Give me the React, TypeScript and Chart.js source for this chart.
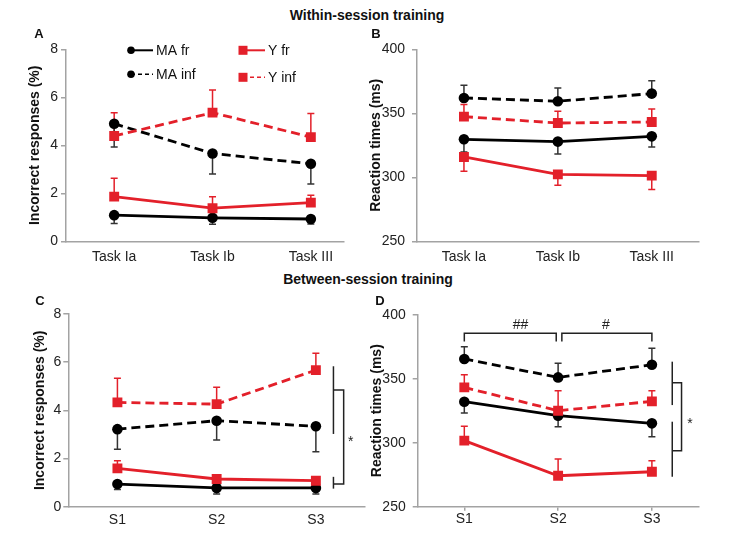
import React, { useEffect, useRef } from 'react';
import { Chart, registerables } from 'chart.js';

Chart.register(...registerables);

const FONT = 'Arial, "Liberation Sans", Helvetica, sans-serif';
Chart.defaults.font.family = FONT;

const RED = '#e3202a';
const BLACK = '#000000';
const BLACK_ERR = '#333333';
const AXIS = '#a3a3a3';
const TEXT = '#222222';

// ---------- categories ----------
const taskLabels = ['Task Ia', 'Task Ib', 'Task III'];
const sessionLabels = ['S1', 'S2', 'S3'];
const seriesNames = ['MA fr', 'Y fr', 'MA inf', 'Y inf'];

// ---------- A: within-session, incorrect responses (%) ----------
const withinErrMAfr = [1.09, 0.98, 0.93];
const withinErrMAfrSE = [-0.35, -0.27, -0.21];
const withinErrYfr = [1.86, 1.38, 1.61];
const withinErrYfrSE = [0.77, 0.48, 0.31];
const withinErrMAinf = [4.9, 3.66, 3.23];
const withinErrMAinfSE = [-0.97, -0.86, -0.84];
const withinErrYinf = [4.39, 5.36, 4.34];
const withinErrYinfSE = [0.97, 0.94, 0.99];

// ---------- B: within-session, reaction times (ms) ----------
const withinRtMAfr = [329.7, 327.9, 332.0];
const withinRtMAfrSE = [-10.0, -9.7, -8.3];
const withinRtYfr = [315.9, 302.3, 301.3];
const withinRtYfrSE = [-11.2, -8.5, -10.9];
const withinRtMAinf = [362.0, 359.4, 365.4];
const withinRtMAinfSE = [9.9, 10.4, 10.1];
const withinRtYinf = [347.4, 342.4, 343.2];
const withinRtYinfSE = [9.4, 9.2, 10.2];

// ---------- C: between-session, incorrect responses (%) ----------
const betweenErrMAfr = [0.94, 0.78, 0.78];
const betweenErrMAfrSE = [-0.23, -0.25, -0.25];
const betweenErrYfr = [1.59, 1.15, 1.08];
const betweenErrYfrSE = [0.32, 0.15, 0.12];
const betweenErrMAinf = [3.22, 3.57, 3.34];
const betweenErrMAinfSE = [-0.83, -0.8, -1.06];
const betweenErrYinf = [4.33, 4.26, 5.67];
const betweenErrYinfSE = [1.0, 0.7, 0.7];

// ---------- D: between-session, reaction times (ms) ----------
const betweenRtMAfr = [332.0, 321.1, 315.1];
const betweenRtMAfrSE = [-8.8, -8.6, -10.4];
const betweenRtYfr = [301.6, 274.2, 277.3];
const betweenRtYfrSE = [11.2, 13.0, 8.6];
const betweenRtMAinf = [365.4, 351.0, 360.9];
const betweenRtMAinfSE = [9.6, 11.0, 12.8];
const betweenRtYinf = [343.2, 325.0, 332.3];
const betweenRtYinfSE = [9.9, 15.6, 8.3];

// ---------- significance marks (data coordinates) ----------
const sessionRtPairBrackets = [
  { from: 0, to: 0.98, y: 385.5, leg: 379, label: '##', labelX: 0.6, labelY: 391.5 },
  { from: 1.04, to: 2.0, y: 385.5, leg: 379, label: '#', labelX: 1.51, labelY: 391.5 },
];
const sessionRtGroupSpans = [
  [363.3, 329.4],
  [316.4, 273.4],
];
const sessionRtGroupBracket = { x: 2.217, x2: 2.316, top: 346.9, bottom: 293.8, label: '*', labelX: 2.405, labelY: 314.5 };

const sessionErrGroupSpans = [
  [5.83, 3.02],
  [1.24, 0.75],
];
const sessionErrGroupBracket = { x: 2.177, x2: 2.28, top: 4.85, bottom: 0.94, label: '*', labelX: 2.35, labelY: 2.68 };

type Series = {
  label: string;
  values: number[];
  errors: number[];
  red: boolean;
  dashed: boolean;
};

function fourSeries(
  maFr: number[], maFrSE: number[],
  yFr: number[], yFrSE: number[],
  maInf: number[], maInfSE: number[],
  yInf: number[], yInfSE: number[],
): Series[] {
  // red series first so they are drawn on top
  return [
    { label: seriesNames[1], values: yFr, errors: yFrSE, red: true, dashed: false },
    { label: seriesNames[3], values: yInf, errors: yInfSE, red: true, dashed: true },
    { label: seriesNames[0], values: maFr, errors: maFrSE, red: false, dashed: false },
    { label: seriesNames[2], values: maInf, errors: maInfSE, red: false, dashed: true },
  ];
}

function buildDatasets(series: Series[]) {
  return series.map((s) => {
    const color = s.red ? RED : BLACK;
    return {
      label: s.label,
      data: s.values.map((v, i) => ({ x: i, y: v })),
      errors: s.errors,
      errColor: s.red ? RED : BLACK_ERR,
      isRed: s.red,
      isDashed: s.dashed,
      borderColor: color,
      backgroundColor: color,
      borderWidth: 2.8,
      borderDash: s.dashed ? [9, 5] : [],
      pointStyle: s.red ? 'rect' : 'circle',
      pointRadius: s.red ? 7 : 5.3,
      pointBorderWidth: 0,
      pointBackgroundColor: color,
      pointBorderColor: color,
      tension: 0,
      fill: false,
    };
  });
}

const errorBarsPlugin = {
  id: 'errorBars',
  beforeDatasetsDraw(chart: any) {
    const { ctx } = chart;
    const x = chart.scales.x;
    const y = chart.scales.y;
    chart.data.datasets.forEach((ds: any) => {
      if (!ds.errors) return;
      ctx.save();
      ctx.strokeStyle = ds.errColor;
      ctx.lineWidth = 1.5;
      ctx.setLineDash([]);
      ds.data.forEach((pt: any, j: number) => {
        const e = ds.errors[j];
        const px = x.getPixelForValue(pt.x);
        const p0 = y.getPixelForValue(pt.y);
        const p1 = y.getPixelForValue(pt.y + e);
        ctx.beginPath();
        ctx.moveTo(px, p0);
        ctx.lineTo(px, p1);
        ctx.moveTo(px - 3.5, p1);
        ctx.lineTo(px + 3.5, p1);
        ctx.stroke();
      });
      ctx.restore();
    });
  },
};

const legendPlugin = {
  id: 'panelLegend',
  afterDraw(chart: any) {
    const { ctx, chartArea } = chart;
    const order = [
      { name: seriesNames[0], dx: 65, dy: 1 },
      { name: seriesNames[1], dx: 177, dy: 1 },
      { name: seriesNames[2], dx: 65, dy: 25 },
      { name: seriesNames[3], dx: 177, dy: 28 },
    ];
    order.forEach((it) => {
      const ds = chart.data.datasets.find((d: any) => d.label === it.name);
      if (!ds) return;
      const cx = chartArea.left + it.dx;
      const cy = chartArea.top + it.dy;
      const color = ds.isRed ? RED : BLACK;
      ctx.save();
      ctx.strokeStyle = color;
      ctx.fillStyle = color;
      ctx.lineWidth = ds.isDashed ? 1.6 : 2;
      ctx.setLineDash(ds.isDashed ? [4, 3] : []);
      ctx.beginPath();
      ctx.moveTo(cx, cy);
      ctx.lineTo(cx + 22, cy);
      ctx.stroke();
      ctx.setLineDash([]);
      if (ds.isRed) {
        ctx.fillRect(cx - 4.5, cy - 4.5, 9, 9);
      } else {
        ctx.beginPath();
        ctx.arc(cx, cy, 3.8, 0, Math.PI * 2);
        ctx.fill();
      }
      ctx.fillStyle = '#111';
      ctx.font = '14px ' + FONT;
      ctx.textBaseline = 'middle';
      ctx.textAlign = 'left';
      ctx.fillText(it.name, cx + 25, cy + 1);
      ctx.restore();
    });
  },
};

type Marks = {
  pairs?: typeof sessionRtPairBrackets;
  spans?: number[][];
  group?: typeof sessionRtGroupBracket;
};

function makeMarksPlugin(marks?: Marks) {
  return {
    id: 'sigMarks',
    afterDatasetsDraw(chart: any) {
      if (!marks) return;
      const { ctx } = chart;
      const x = chart.scales.x;
      const y = chart.scales.y;
      ctx.save();
      ctx.strokeStyle = '#222';
      ctx.fillStyle = '#222';
      ctx.lineWidth = 1.5;
      ctx.setLineDash([]);
      ctx.font = '14px ' + FONT;
      ctx.textAlign = 'center';
      ctx.textBaseline = 'middle';
      (marks.pairs || []).forEach((b) => {
        const xa = x.getPixelForValue(b.from);
        const xb = x.getPixelForValue(b.to);
        const yl = y.getPixelForValue(b.leg);
        const yt = y.getPixelForValue(b.y);
        ctx.beginPath();
        ctx.moveTo(xa, yl);
        ctx.lineTo(xa, yt);
        ctx.lineTo(xb, yt);
        ctx.lineTo(xb, yl);
        ctx.stroke();
        ctx.fillText(b.label, x.getPixelForValue(b.labelX), y.getPixelForValue(b.labelY));
      });
      if (marks.group) {
        const g = marks.group;
        const gx = x.getPixelForValue(g.x);
        (marks.spans || []).forEach((s) => {
          ctx.beginPath();
          ctx.moveTo(gx, y.getPixelForValue(s[0]));
          ctx.lineTo(gx, y.getPixelForValue(s[1]));
          ctx.stroke();
        });
        const gx2 = x.getPixelForValue(g.x2);
        ctx.beginPath();
        ctx.moveTo(gx, y.getPixelForValue(g.top));
        ctx.lineTo(gx2, y.getPixelForValue(g.top));
        ctx.lineTo(gx2, y.getPixelForValue(g.bottom));
        ctx.lineTo(gx, y.getPixelForValue(g.bottom));
        ctx.stroke();
        ctx.fillText(g.label, x.getPixelForValue(g.labelX), y.getPixelForValue(g.labelY));
      }
      ctx.restore();
    },
  };
}

type PanelDef = {
  rect: { left: number; top: number; width: number; height: number };
  area: { left: number; top: number; right: number; bottom: number };
  xMin: number;
  xMax: number;
  labels: string[];
  yMin: number;
  yMax: number;
  yStep: number;
  yTitle: string;
  yTitlePad: number;
  yTickPad: number;
  xTickPad: number;
  xTickMarks: boolean;
  series: Series[];
  legend?: boolean;
  marks?: Marks;
};

const panels: PanelDef[] = [
  {
    rect: { left: 0, top: 25, width: 360, height: 244 },
    area: { left: 66, top: 49.3, right: 343.3, bottom: 241.3 },
    xMin: -0.49, xMax: 2.33, labels: taskLabels,
    yMin: 0, yMax: 8, yStep: 2,
    yTitle: 'Incorrect responses (%)', yTitlePad: 26.6, yTickPad: 3, xTickPad: 7, xTickMarks: false,
    series: fourSeries(withinErrMAfr, withinErrMAfrSE, withinErrYfr, withinErrYfrSE,
      withinErrMAinf, withinErrMAinfSE, withinErrYinf, withinErrYinfSE),
    legend: true,
  },
  {
    rect: { left: 355, top: 25, width: 399, height: 244 },
    area: { left: 417, top: 49.3, right: 698.7, bottom: 241.3 },
    xMin: -0.5, xMax: 2.5, labels: taskLabels,
    yMin: 250, yMax: 400, yStep: 50,
    yTitle: 'Reaction times (ms)', yTitlePad: 12.6, yTickPad: 7, xTickPad: 7, xTickMarks: false,
    series: fourSeries(withinRtMAfr, withinRtMAfrSE, withinRtYfr, withinRtYfrSE,
      withinRtMAinf, withinRtMAinfSE, withinRtYinf, withinRtYinfSE),
  },
  {
    rect: { left: 0, top: 290, width: 372, height: 248 },
    area: { left: 68.3, top: 314, right: 366.7, bottom: 506.7 },
    xMin: -0.495, xMax: 2.495, labels: sessionLabels,
    yMin: 0, yMax: 8, yStep: 2,
    yTitle: 'Incorrect responses (%)', yTitlePad: 31.6, yTickPad: 2, xTickPad: 5, xTickMarks: false,
    series: fourSeries(betweenErrMAfr, betweenErrMAfrSE, betweenErrYfr, betweenErrYfrSE,
      betweenErrMAinf, betweenErrMAinfSE, betweenErrYinf, betweenErrYinfSE),
    marks: { spans: sessionErrGroupSpans, group: sessionErrGroupBracket },
  },
  {
    rect: { left: 355, top: 290, width: 399, height: 248 },
    area: { left: 417.7, top: 314.7, right: 698.7, bottom: 506.7 },
    xMin: -0.497, xMax: 2.499, labels: sessionLabels,
    yMin: 250, yMax: 400, yStep: 50,
    yTitle: 'Reaction times (ms)', yTitlePad: 13.6, yTickPad: 7, xTickPad: 0, xTickMarks: true,
    series: fourSeries(betweenRtMAfr, betweenRtMAfrSE, betweenRtYfr, betweenRtYfrSE,
      betweenRtMAinf, betweenRtMAinfSE, betweenRtYinf, betweenRtYinfSE),
    marks: { pairs: sessionRtPairBrackets, spans: sessionRtGroupSpans, group: sessionRtGroupBracket },
  },
];

function Panel({ p }: { p: PanelDef }) {
  const ref = useRef<HTMLCanvasElement>(null);
  useEffect(() => {
    const cvs = ref.current;
    if (!cvs) return;
    const { rect, area } = p;
    const plugins: any[] = [errorBarsPlugin, makeMarksPlugin(p.marks)];
    if (p.legend) plugins.push(legendPlugin);
    const chart = new Chart(cvs, {
      type: 'line',
      data: { datasets: buildDatasets(p.series) as any },
      options: {
        animation: false,
        responsive: false,
        devicePixelRatio: 1,
        layout: {
          padding: {
            top: area.top - rect.top,
            right: rect.left + rect.width - area.right,
            left: 0,
            bottom: 0,
          },
        },
        plugins: {
          legend: { display: false },
          tooltip: { enabled: false },
        },
        scales: {
          x: {
            type: 'linear',
            min: p.xMin,
            max: p.xMax,
            afterBuildTicks: (s: any) => {
              s.ticks = p.labels.map((_, i) => ({ value: i }));
            },
            afterFit: (s: any) => {
              s.height = rect.top + rect.height - area.bottom;
            },
            ticks: {
              autoSkip: false,
              maxRotation: 0,
              padding: p.xTickPad,
              color: TEXT,
              font: { size: 14, family: FONT },
              callback: (v: any) => (Number.isInteger(v) ? p.labels[v] : ''),
            },
            grid: {
              display: true,
              drawOnChartArea: false,
              drawTicks: p.xTickMarks,
              tickLength: 4,
              color: AXIS,
              lineWidth: 1.5,
            },
            border: { display: true, color: AXIS, width: 1.5 },
          },
          y: {
            type: 'linear',
            min: p.yMin,
            max: p.yMax,
            afterFit: (s: any) => {
              s.width = area.left - rect.left;
            },
            ticks: {
              stepSize: p.yStep,
              padding: p.yTickPad,
              color: TEXT,
              font: { size: 14, family: FONT },
            },
            grid: {
              display: true,
              drawOnChartArea: false,
              drawTicks: true,
              tickLength: 5,
              color: AXIS,
              lineWidth: 1.5,
            },
            border: { display: true, color: AXIS, width: 1.5 },
            title: {
              display: true,
              text: p.yTitle,
              color: '#111',
              font: { size: 14, weight: 'bold', family: FONT },
              padding: { top: p.yTitlePad, bottom: 0 },
            },
          },
        },
      } as any,
      plugins,
    });
    return () => chart.destroy();
  }, [p]);
  return (
    <canvas
      ref={ref}
      width={p.rect.width}
      height={p.rect.height}
      style={{
        position: 'absolute',
        left: p.rect.left,
        top: p.rect.top,
        width: p.rect.width,
        height: p.rect.height,
      }}
    />
  );
}

const headerStyle = (cx: number, cy: number, size: number): React.CSSProperties => ({
  position: 'absolute',
  left: cx,
  top: cy,
  transform: 'translate(-50%, -50%)',
  fontFamily: FONT,
  fontWeight: 'bold',
  fontSize: size,
  lineHeight: '1',
  whiteSpace: 'nowrap',
  color: '#111',
});

export default function App() {
  return (
    <div
      style={{
        position: 'fixed',
        left: 0,
        top: 0,
        width: 754,
        height: 538,
        background: '#ffffff',
        overflow: 'hidden',
      }}
    >
      {panels.map((p, i) => (
        <Panel key={i} p={p} />
      ))}
      <div style={headerStyle(367, 15, 14)}>Within-session training</div>
      <div style={headerStyle(368, 279, 14)}>Between-session training</div>
      <div style={headerStyle(39, 33, 13)}>A</div>
      <div style={headerStyle(376, 33, 13)}>B</div>
      <div style={headerStyle(40, 300, 13)}>C</div>
      <div style={headerStyle(380, 300, 13)}>D</div>
    </div>
  );
}
